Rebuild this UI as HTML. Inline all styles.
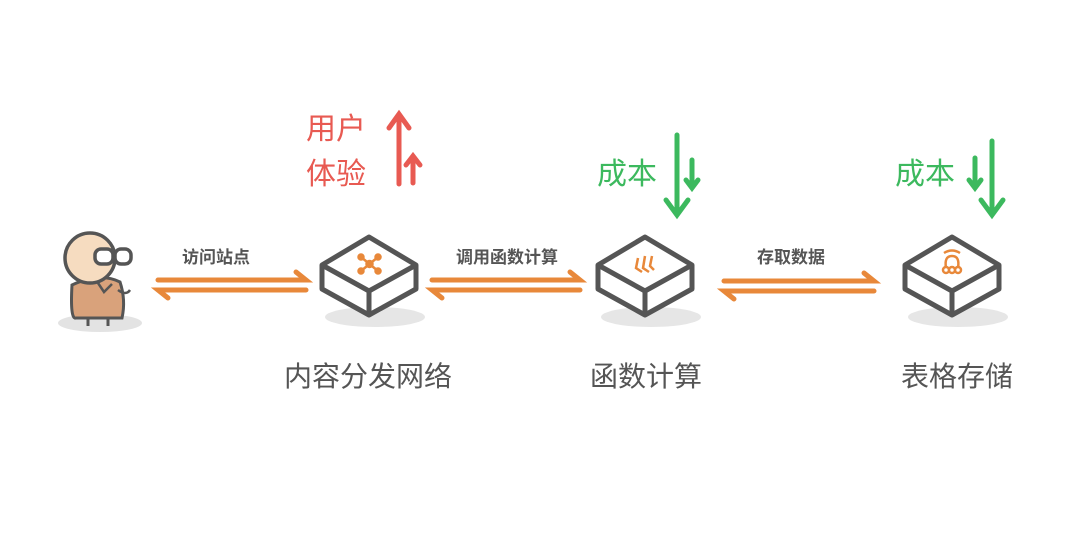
<!DOCTYPE html>
<html><head><meta charset="utf-8"><style>
html,body{margin:0;padding:0;background:#fff;}
svg{display:block;}
text{font-family:"Liberation Sans","Noto Sans CJK SC",sans-serif;}
</style></head><body>
<svg width="1080" height="540" viewBox="0 0 1080 540" xmlns="http://www.w3.org/2000/svg">
<defs>
<g id="box">
  <ellipse cx="6" cy="52" rx="50" ry="10" fill="#e6e6e6"/>
  <path d="M0,-28 L47,0 L47,24 L0,50 L-47,24 L-47,0 Z" fill="#fff" stroke="#555" stroke-width="5" stroke-linejoin="round"/>
  <path d="M-47,0 L0,26 L47,0 M0,26 L0,50" fill="none" stroke="#555" stroke-width="5" stroke-linejoin="round"/>
</g>
</defs>

<!-- person -->
<ellipse cx="100" cy="323" rx="42" ry="9" fill="#e3e3e3"/>
<path d="M72,285 Q70,320 76,318 L122,318 Q126,300 120,282 Q100,272 72,285Z" fill="#d9a27b" stroke="#555" stroke-width="3"/>
<line x1="88" y1="318" x2="88" y2="326" stroke="#555" stroke-width="3"/>
<line x1="108" y1="318" x2="108" y2="326" stroke="#555" stroke-width="3"/>
<circle cx="90" cy="258" r="25" fill="#f6dcc0" stroke="#555" stroke-width="3.5"/>
<rect x="95" y="249" width="18" height="15" rx="6" fill="#fff" stroke="#555" stroke-width="3.5"/>
<rect x="115" y="249" width="16" height="15" rx="6" fill="#fff" stroke="#555" stroke-width="3.5"/>
<path d="M98,283 L104,292 L112,284" fill="none" stroke="#555" stroke-width="2.5"/>
<path d="M118,290 Q126,296 130,290" fill="none" stroke="#555" stroke-width="2.5"/>

<!-- arrows -->
<g stroke="#e8883a" stroke-width="5" stroke-linecap="round" fill="none">
  <path d="M158,280 L306,280 L296,272"/>
  <path d="M306,290 L158,290 L168,298"/>
  <path d="M432,280 L580,280 L570,272"/>
  <path d="M580,290 L432,290 L442,298"/>
  <path d="M724,281 L874,281 L864,273"/>
  <path d="M874,291 L724,291 L734,299"/>
</g>
<g font-size="17" font-weight="bold" fill="#555" text-anchor="middle">
  <text x="216" y="263">访问站点</text>
  <text x="507" y="263">调用函数计算</text>
  <text x="791" y="263">存取数据</text>
</g>

<!-- boxes -->
<use href="#box" x="369" y="265"/>
<use href="#box" x="645" y="265"/>
<use href="#box" x="952" y="265"/>

<!-- icons -->
<g stroke="#e8883a" stroke-width="2.5" fill="#e8883a">
  <line x1="361" y1="257" x2="378" y2="271"/><line x1="378" y1="257" x2="361" y2="271"/>
  <circle cx="369.5" cy="264" r="3"/>
  <circle cx="361" cy="257" r="2.5"/><circle cx="378" cy="257" r="2.5"/>
  <circle cx="361" cy="271" r="2.5"/><circle cx="378" cy="271" r="2.5"/>
</g>
<g stroke="#e8883a" stroke-width="2.5" fill="none">
  <path d="M638,258 L636,268 L642,272"/><path d="M645,256 L643,268 L649,272"/><path d="M652,256 L650,266 L654,270"/>
</g>
<g stroke="#e8883a" stroke-width="2.5" fill="none">
  <path d="M944,253 Q952,248 960,253"/>
  <path d="M946,268 Q944,256 952,256 Q960,256 958,268"/>
  <circle cx="946" cy="270" r="3"/><circle cx="952" cy="270" r="3"/><circle cx="958" cy="270" r="3"/>
</g>

<!-- node labels -->
<g font-size="28" fill="#555" text-anchor="middle">
  <text x="368" y="386">内容分发网络</text>
  <text x="646" y="386">函数计算</text>
  <text x="957" y="386">表格存储</text>
</g>

<!-- red -->
<g font-size="30" fill="#e85a52">
  <text x="306" y="139">用户</text>
  <text x="306" y="184">体验</text>
</g>
<g stroke="#e85a52" stroke-width="5" stroke-linecap="round" fill="none">
  <path d="M399,184 L399,114 M389,128 L399,114 L409,128"/>
  <path d="M413,183 L413,156 M406,165 L413,156 L420,165"/>
</g>

<!-- green -->
<g font-size="30" fill="#3cb95e">
  <text x="597" y="184">成本</text>
  <text x="895" y="184">成本</text>
</g>
<g stroke="#3cb95e" stroke-width="5" stroke-linecap="round" fill="none">
  <path d="M677,135 L677,215 M666,200 L677,215 L688,200"/>
  <path d="M692,160 L692,188 M686,180 L692,188 L698,180"/>
  <path d="M975,158 L975,188 M969,180 L975,188 L981,180"/>
  <path d="M992,141 L992,215 M981,200 L992,215 L1003,200"/>
</g>
</svg>
</body></html>
